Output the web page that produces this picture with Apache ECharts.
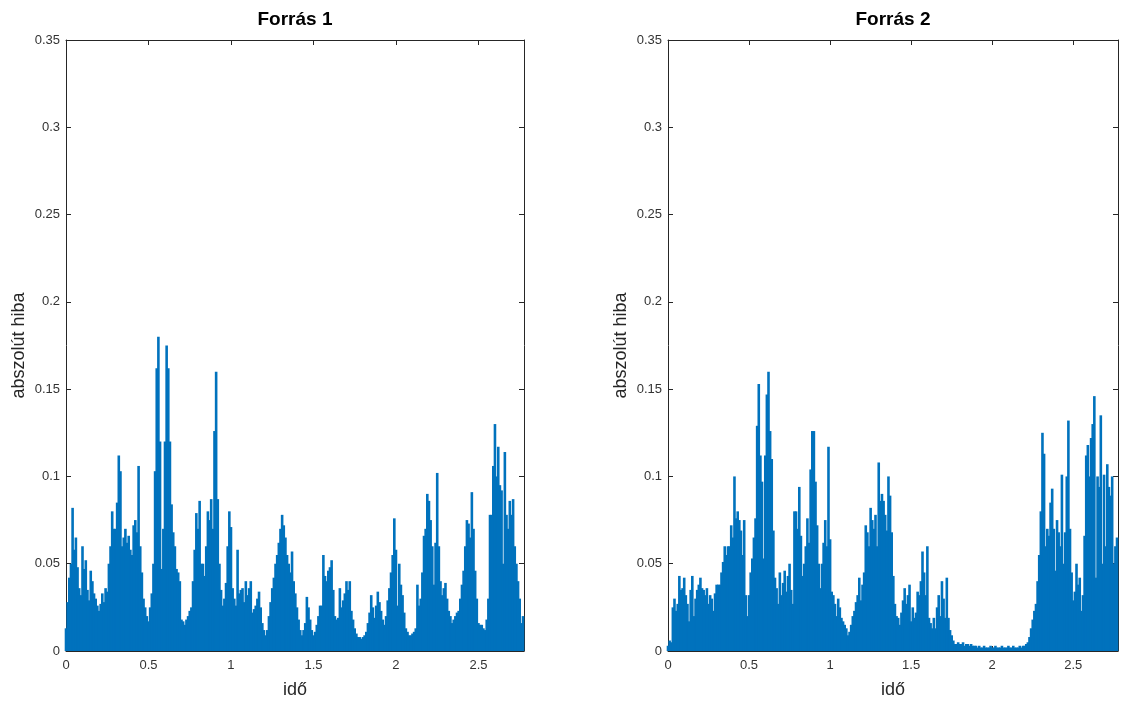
<!DOCTYPE html>
<html>
<head>
<meta charset="utf-8">
<script src="https://cdn.jsdelivr.net/npm/echarts@6/dist/echarts.min.js"></script>
<style>
    html, body { margin: 0; padding: 0; background: #fff; }
    #chart { width: 1121px; height: 704px; }
</style>
</head>
<body>
<div id="chart"></div>
<script>
/* abszolút hiba, két forrás */

var titles = ['Forrás 1', 'Forrás 2'];
var xName = 'idő';
var yName = 'abszolút hiba';
var timeStep = 0.01;   // minták közti idő
var timeMax = 2.776;

var forras1 = [
    0.013, 0.028, 0.042, 0.05, 0.082, 0.058, 0.065, 0.048, 0.036, 0.032,
    0.06, 0.047, 0.052, 0.035, 0.029, 0.046, 0.04, 0.033, 0.03, 0.026,
    0.023, 0.027, 0.033, 0.028, 0.036, 0.034, 0.05, 0.06, 0.08, 0.07,
    0.07, 0.085, 0.112, 0.103, 0.06, 0.065, 0.07, 0.062, 0.066, 0.058,
    0.055, 0.072, 0.075, 0.068, 0.106, 0.06, 0.045, 0.03, 0.025, 0.02,
    0.017, 0.025, 0.033, 0.05, 0.103, 0.162, 0.18, 0.12, 0.047, 0.07,
    0.12, 0.175, 0.162, 0.12, 0.084, 0.068, 0.06, 0.047, 0.045, 0.04,
    0.018, 0.017, 0.015, 0.018, 0.02, 0.023, 0.025, 0.04, 0.058, 0.079,
    0.07, 0.086, 0.05, 0.05, 0.043, 0.06, 0.08, 0.075, 0.087, 0.07,
    0.126, 0.16, 0.087, 0.05, 0.035, 0.026, 0.03, 0.039, 0.06, 0.08,
    0.071, 0.036, 0.03, 0.026, 0.058, 0.033, 0.035, 0.036, 0.028, 0.04,
    0.032, 0.036, 0.04, 0.022, 0.024, 0.026, 0.03, 0.034, 0.025, 0.016,
    0.012, 0.009, 0.012, 0.02, 0.028, 0.036, 0.042, 0.05, 0.055, 0.062,
    0.07, 0.078, 0.072, 0.065, 0.055, 0.05, 0.045, 0.057, 0.04, 0.033,
    0.025, 0.018, 0.012, 0.009, 0.012, 0.016, 0.031, 0.025, 0.018, 0.012,
    0.009, 0.011, 0.015, 0.02, 0.026, 0.026, 0.055, 0.043, 0.04, 0.046,
    0.048, 0.052, 0.035, 0.02, 0.018, 0.019, 0.036, 0.025, 0.029, 0.033,
    0.04, 0.035, 0.04, 0.023, 0.018, 0.013, 0.01, 0.008, 0.008, 0.007,
    0.008, 0.009, 0.011, 0.016, 0.022, 0.032, 0.025, 0.019, 0.026, 0.034,
    0.028, 0.023, 0.018, 0.015, 0.02, 0.029, 0.036, 0.045, 0.055, 0.076,
    0.058, 0.026, 0.05, 0.038, 0.032, 0.022, 0.013, 0.011, 0.009, 0.009,
    0.01, 0.011, 0.013, 0.038, 0.026, 0.03, 0.045, 0.066, 0.07, 0.09,
    0.086, 0.075, 0.06, 0.038, 0.062, 0.102, 0.06, 0.04, 0.032, 0.036,
    0.039, 0.03, 0.023, 0.02, 0.016, 0.018, 0.02, 0.022, 0.023, 0.03,
    0.038, 0.046, 0.06, 0.075, 0.073, 0.065, 0.091, 0.07, 0.046, 0.03,
    0.016, 0.015, 0.015, 0.013, 0.012, 0.018, 0.03, 0.078, 0.078, 0.106,
    0.13, 0.1, 0.117, 0.095, 0.092, 0.05, 0.114, 0.078, 0.07, 0.086,
    0.078, 0.087, 0.06, 0.05, 0.04, 0.03, 0.016, 0.02
];

var forras2 = [
    0.003, 0.006, 0.005, 0.025, 0.03, 0.023, 0.027, 0.043, 0.035, 0.036,
    0.042, 0.032, 0.027, 0.017, 0.035, 0.043, 0.02, 0.03, 0.035, 0.038,
    0.042, 0.036, 0.035, 0.032, 0.036, 0.027, 0.032, 0.03, 0.023, 0.033,
    0.038, 0.038, 0.038, 0.045, 0.051, 0.06, 0.055, 0.06, 0.06, 0.072,
    0.065, 0.1, 0.076, 0.08, 0.075, 0.069, 0.055, 0.075, 0.032, 0.02,
    0.032, 0.045, 0.053, 0.065, 0.076, 0.129, 0.153, 0.112, 0.097, 0.053,
    0.112, 0.147, 0.16, 0.126, 0.11, 0.069, 0.042, 0.036, 0.027, 0.045,
    0.032, 0.039, 0.046, 0.034, 0.043, 0.05, 0.035, 0.027, 0.08, 0.08,
    0.07, 0.094, 0.066, 0.043, 0.05, 0.06, 0.076, 0.062, 0.104, 0.126,
    0.126, 0.097, 0.072, 0.05, 0.036, 0.05, 0.062, 0.075, 0.06, 0.117,
    0.064, 0.034, 0.032, 0.027, 0.02, 0.03, 0.025, 0.019, 0.017, 0.015,
    0.013, 0.009, 0.011, 0.015, 0.02, 0.023, 0.028, 0.032, 0.042, 0.029,
    0.038, 0.045, 0.072, 0.068, 0.06, 0.082, 0.075, 0.07, 0.078, 0.06,
    0.108, 0.086, 0.09, 0.086, 0.078, 0.069, 0.1, 0.089, 0.068, 0.043,
    0.027, 0.02, 0.019, 0.015, 0.022, 0.029, 0.036, 0.027, 0.032, 0.038,
    0.017, 0.025, 0.019, 0.022, 0.034, 0.032, 0.04, 0.057, 0.045, 0.032,
    0.06, 0.019, 0.016, 0.013, 0.019, 0.013, 0.025, 0.032, 0.02, 0.04,
    0.03, 0.019, 0.042, 0.019, 0.012, 0.009, 0.006, 0.004, 0.004, 0.005,
    0.004, 0.004, 0.005, 0.003, 0.004, 0.004, 0.003, 0.004, 0.003, 0.003,
    0.003, 0.002, 0.003, 0.002, 0.002, 0.003, 0.002, 0.002, 0.002, 0.003,
    0.002, 0.002, 0.003, 0.002, 0.002, 0.002, 0.003, 0.002, 0.002, 0.002,
    0.003, 0.002, 0.002, 0.003, 0.002, 0.002, 0.002, 0.003, 0.002, 0.003,
    0.003, 0.004, 0.005, 0.008, 0.013, 0.018, 0.023, 0.027, 0.04, 0.055,
    0.08, 0.125, 0.113, 0.06, 0.07, 0.066, 0.085, 0.093, 0.07, 0.046,
    0.075, 0.068, 0.06, 0.101, 0.05, 0.068, 0.1, 0.132, 0.07, 0.045,
    0.029, 0.034, 0.05, 0.038, 0.042, 0.023, 0.032, 0.066, 0.112, 0.118,
    0.1, 0.122, 0.13, 0.146, 0.042, 0.1, 0.094, 0.135, 0.05, 0.101,
    0.06, 0.107, 0.094, 0.089, 0.1, 0.05, 0.06, 0.065
];

var axisColor = '#262626';
var fontFamily = '"Liberation Sans", Arial, sans-serif';

function toPairs(values) {
    var pairs = [];
    for (var i = 0; i < values.length; i++) {
        pairs.push([+(i * timeStep).toFixed(2), values[i]]);
    }
    return pairs;
}

// csak a 0.5 többszöröseinél legyen felirat
function halfFormatter(v) {
    var k = v / 0.5;
    return Math.abs(k - Math.round(k)) < 1e-6 ? String(+v.toFixed(2)) : '';
}

function baseAxis(gi, extra) {
    var axis = {
        type: 'value',
        gridIndex: gi,
        axisLine: { show: true, onZero: false, lineStyle: { color: axisColor, width: 1 } },
        axisTick: { show: true, inside: true, length: 5, lineStyle: { color: axisColor } },
        axisLabel: { show: false },
        splitLine: { show: false }
    };
    for (var k in extra) axis[k] = extra[k];
    return axis;
}

function drawChart() {
    return chartModel = {
        myChart: null,
        grids: [
            { left: 66, top: 40, width: 458, height: 613 },
            { left: 668, top: 40, width: 452, height: 613 }
        ],
        initChart: function (id) {
            this.myChart = echarts.init(document.getElementById(id), null, { renderer: 'canvas' });
        },
        show: function (sources) {
            let xAxes = [], yAxes = [], series = [];
            for (let gi = 0; gi < sources.length; gi++) {
                // alsó x tengely
                xAxes.push(baseAxis(gi, {
                    position: 'bottom', min: 0, max: timeMax, interval: 0.5,
                    name: xName, nameLocation: 'middle', nameGap: 30,
                    nameTextStyle: { fontSize: 18, color: axisColor, fontFamily: fontFamily },
                    axisLabel: { show: true, margin: 8, fontSize: 13, color: '#333', fontFamily: fontFamily, formatter: halfFormatter }
                }));
                // felső x tengely, rajta a cím
                xAxes.push(baseAxis(gi, {
                    position: 'top', min: 0, max: timeMax, interval: 0.5,
                    name: titles[gi], nameLocation: 'middle', nameGap: 11,
                    nameTextStyle: { fontSize: 19, fontWeight: 'bold', color: '#000', fontFamily: fontFamily }
                }));
                yAxes.push(baseAxis(gi, {
                    position: 'left', min: 0, max: 0.35, interval: 0.05,
                    name: yName, nameLocation: 'middle', nameGap: 38,
                    nameTextStyle: { fontSize: 18, color: axisColor, fontFamily: fontFamily },
                    axisLabel: { show: true, margin: 6, fontSize: 13, color: '#333', fontFamily: fontFamily }
                }));
                yAxes.push(baseAxis(gi, {
                    position: 'right', min: 0, max: 0.35, interval: 0.05
                }));
                series.push({
                    type: 'bar',
                    xAxisIndex: gi * 2,
                    yAxisIndex: gi * 2,
                    barWidth: 2.6,
                    silent: true,
                    itemStyle: { color: '#0072BD' },
                    data: toPairs(sources[gi])
                });
            }
            let option = {
                backgroundColor: '#fff',
                animation: false,
                grid: this.grids,
                xAxis: xAxes,
                yAxis: yAxes,
                series: series
            };
            this.myChart.setOption(option, true);
        }
    };
}

var chart = drawChart();
chart.initChart('chart');
chart.show([forras1, forras2]);
</script>
</body>
</html>
